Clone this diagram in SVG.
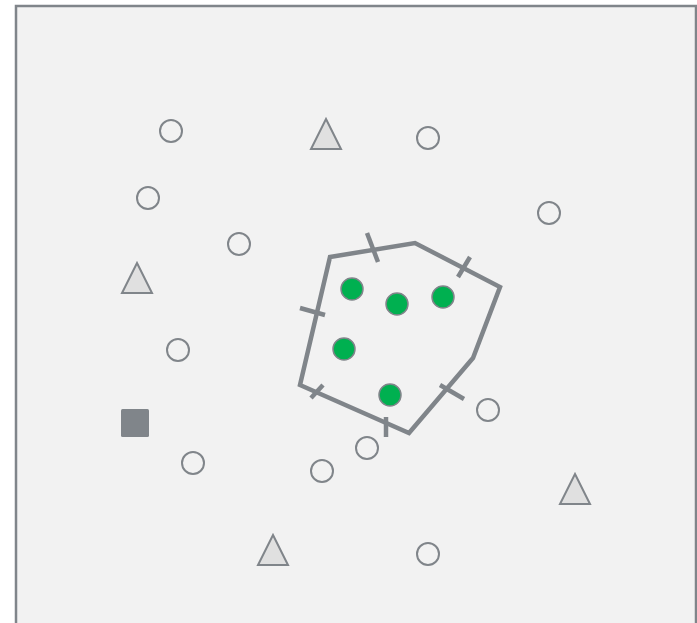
<svg xmlns="http://www.w3.org/2000/svg" width="697" height="623" viewBox="0 0 697 623">
<style>
.frame{fill:#f2f2f2;stroke:#80858a;stroke-width:2.5}
.hc{fill:none;stroke:#80858a;stroke-width:2}
.tri{fill:#e0e0e0;stroke:#80858a;stroke-width:2;stroke-linejoin:miter}
.sq{fill:#80858a;stroke:none}
.gc{fill:#00b050;stroke:#80858a;stroke-width:1.5}
.poly{fill:none;stroke:#80858a;stroke-width:4.5;stroke-linejoin:miter}
.tick{stroke:#80858a;stroke-width:4.5;fill:none}
</style>
<rect class="frame" x="16" y="6" width="680" height="640"/>
<g id="connectors">
<polygon class="poly" points="330,257 415,243 500,287 473,358 409,433 300,385"/>
<line class="tick" x1="367" y1="233" x2="378" y2="262"/>
<line class="tick" x1="470" y1="257" x2="458" y2="277"/>
<line class="tick" x1="300" y1="308" x2="325" y2="315"/>
<line class="tick" x1="323" y1="385" x2="311" y2="398"/>
<line class="tick" x1="386" y1="417" x2="386" y2="437"/>
<line class="tick" x1="440" y1="385" x2="464" y2="399"/>
</g>
<g id="g1"><circle class="gc" cx="352" cy="289" r="11"/></g>
<g id="g2"><circle class="gc" cx="397" cy="304" r="11"/></g>
<g id="g3"><circle class="gc" cx="443" cy="297" r="11"/></g>
<g id="g4"><circle class="gc" cx="344" cy="349" r="11"/></g>
<g id="g5"><circle class="gc" cx="390" cy="395" r="11"/></g>
<g id="c1"><circle class="hc" cx="171" cy="131" r="11"/></g>
<g id="c2"><circle class="hc" cx="148" cy="198" r="11"/></g>
<g id="c3"><circle class="hc" cx="239" cy="244" r="11"/></g>
<g id="c4"><circle class="hc" cx="428" cy="138" r="11"/></g>
<g id="c5"><circle class="hc" cx="549" cy="213" r="11"/></g>
<g id="c6"><circle class="hc" cx="178" cy="350" r="11"/></g>
<g id="c7"><circle class="hc" cx="193" cy="463" r="11"/></g>
<g id="c8"><circle class="hc" cx="322" cy="471" r="11"/></g>
<g id="c9"><circle class="hc" cx="367" cy="448" r="11"/></g>
<g id="c10"><circle class="hc" cx="488" cy="410" r="11"/></g>
<g id="c11"><circle class="hc" cx="428" cy="554" r="11"/></g>
<g id="t1"><polygon class="tri" points="326,119 341,149 311,149"/></g>
<g id="t2"><polygon class="tri" points="137,263 152,293 122,293"/></g>
<g id="t3"><polygon class="tri" points="575,474 590,504 560,504"/></g>
<g id="t4"><polygon class="tri" points="273,535 288,565 258,565"/></g>
<g id="s1"><rect class="sq" x="121" y="409" width="28" height="28" rx="1.5"/></g>
</svg>
